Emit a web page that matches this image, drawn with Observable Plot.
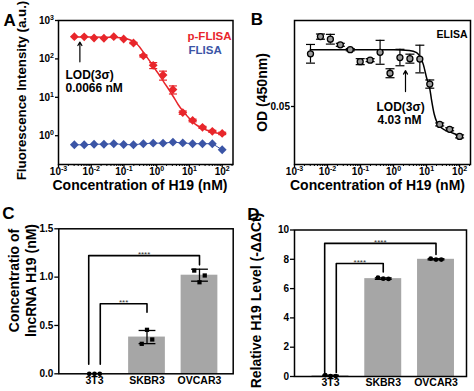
<!DOCTYPE html>
<html>
<head>
<meta charset="utf-8">
<script src="https://cdn.jsdelivr.net/npm/d3@7"></script>
<script src="https://cdn.jsdelivr.net/npm/@observablehq/plot@0.6"></script>
<style>
html, body { margin: 0; padding: 0; background: #fff; }
#fig { position: relative; width: 474px; height: 391px; overflow: hidden; background: #fff; }
#fig svg { position: absolute; }
</style>
</head>
<body>
<div id="fig"></div>
<script>
// ---------- Data: panels A & B ----------
const concentrations = [0.00305, 0.0061, 0.0122, 0.0244, 0.0488, 0.0977, 0.195, 0.391, 0.781, 1.56, 3.13, 6.25, 12.5, 25, 50, 100];
const pFlisaSignal = [380, 375, 350, 345, 380, 330, 260, 120, 68, 38, 16, 4.0, 2.5, 1.65, 1.3, 1.15];
const pFlisaSD = [0, 0, 0, 0, 0, 0, 10, 8, 12, 10, 3.8, 0.4, 0.2, 0.1, 0.08, 0.08];
const flisaSignal = [0.58, 0.58, 0.60, 0.60, 0.62, 0.59, 0.58, 0.62, 0.64, 0.64, 0.68, 0.65, 0.62, 0.62, 0.62, 0.43];
const pFlisaFitConc = [0.003, 0.01, 0.03, 0.06, 0.1, 0.15, 0.2, 0.3, 0.4, 0.6, 0.8, 1.2, 1.6, 2.4, 3.2, 4.5, 6.4, 10, 15, 25, 50, 100];
const pFlisaFitSignal = [372, 371, 368, 362, 345, 315, 280, 205, 145, 90, 62, 38, 26, 15.5, 10.5, 6.5, 4.3, 2.8, 2.0, 1.55, 1.25, 1.12];
const elisaOD = [0.0641, 0.0687, 0.0680, 0.0665, 0.0652, 0.0620, 0.0624, 0.0645, 0.0589, 0.0631, 0.0628, 0.0627, 0.0560, 0.0452, 0.0439, 0.0420];
const elisaSD = [0.0025, 0.0007, 0.0013, 0.0004, 0.0003, 0.0008, 0.0004, 0.0032, 0.0012, 0.0022, 0.0012, 0.0037, 0.0011, 0.0004, 0.0004, 0.0004];
const elisaFitConc = [0.003, 1, 3, 5, 6.5, 8, 10, 12.5, 14, 17, 21, 30, 50, 100];
const elisaFitOD = [0.0652, 0.0652, 0.0650, 0.0644, 0.0632, 0.0612, 0.0577, 0.0548, 0.0520, 0.0480, 0.0456, 0.0441, 0.0432, 0.0422];
const logTickValues = [1e-3, 1e-2, 1e-1, 1, 10, 100];
const logTickLabels = ["10^-3", "10^-2", "10^-1", "10^0", "10^1", "10^2"];
const signalTickValues = [1, 10, 100, 1000];
const signalTickLabels = ["10^0", "10^1", "10^2", "10^3"];
const odTickValues = [0.05];
const odTickLabels = ["0.05"];
const lodA = {conc: 0.0045, from: 84, to: 275, line1: "LOD(3σ)", line2: "0.0066 nM"};
const lodB = {conc: 2.3, from: 0.0540, to: 0.0596, line1: "LOD(3σ)", line2: "4.03 nM"};
const seriesNames = ["p-FLISA", "FLISA"];

// ---------- Data: panels C & D ----------
const cellLines = ["3T3", "SKBR3", "OVCAR3"];
const h19ConcMean = [0.003, 0.38, 1.02];
const h19ConcSD = [0, 0.068, 0.062];
const h19ConcReps = [[0, 0, 0], [0.31, 0.455, 0.355], [1.068, 0.947, 1.017]];
const h19ConcBrackets = [
  {from: 0, to: 2, top: 1.223, startY: 0.10, endY: 1.127, label: "****", outer: true},
  {from: 0, to: 1, top: 0.724, startY: 0.10, endY: 0.637, label: "***", outer: false}
];
const concTicks = [0, 0.5, 1.0, 1.5];
const concTickLabels = ["0.0", "0.5", "1.0", "1.5"];
const h19LevelMean = [0.05, 6.68, 8.0];
const h19LevelSD = [0.04, 0.05, 0.04];
const h19LevelReps = [[0.1, 0.03, 0.03], [6.75, 6.68, 6.66], [8.05, 7.98, 7.98]];
const h19LevelBrackets = [
  {from: 0, to: 2, top: 9.09, startY: 0.27, endY: 8.33, label: "****", outer: true},
  {from: 0, to: 1, top: 7.71, startY: 0.27, endY: 7.14, label: "****", outer: false}
];
const levelTicks = [0, 2, 4, 6, 8, 10];
const levelTickLabels = ["0", "2", "4", "6", "8", "10"];

// ---------- Styles ----------
const fontFam = '"Liberation Sans", Arial, Helvetica, sans-serif';
const red = "#e8262b", blue = "#3b55a6", barGray = "#a6a6a6";
const baseStyle = {fontFamily: fontFam, fontSize: "10px", fontWeight: "bold", color: "#000", background: "transparent", overflow: "visible"};
const capSym = {draw(ctx, size) { const w = Math.sqrt(size / Math.PI); ctx.moveTo(-w, 0); ctx.lineTo(w, 0); }};
const minorLog = [];
for (let e = -3; e <= 2; e++) for (let k = 2; k <= 9; k++) { const v = k * Math.pow(10, e); if (v <= 214) minorLog.push(v); }
const lookup = (vals, labels) => d => labels[vals.findIndex(v => Math.abs(v - d) < 1e-9 * Math.max(1, Math.abs(v)))];

function superscripts(svg) {
  svg.querySelectorAll("text").forEach(t => {
    let host = t;
    if (t.children.length === 1 && t.firstElementChild.tagName.toLowerCase() === "tspan") host = t.firstElementChild;
    const m = /^10\^(-?\d+)$/.exec(host.textContent.trim());
    if (!m) return;
    while (host.firstChild) host.removeChild(host.firstChild);
    host.appendChild(document.createTextNode("10"));
    const s = document.createElementNS("http://www.w3.org/2000/svg", "tspan");
    s.setAttribute("dy", "-4");
    s.setAttribute("font-size", "7");
    s.textContent = m[1];
    host.appendChild(s);
  });
}

const fig = document.getElementById("fig");
function place(svg, left, top) { svg.style.left = left + "px"; svg.style.top = top + "px"; fig.appendChild(svg); superscripts(svg); }

// ---------- Panel A ----------
const pData = concentrations.map((c, i) => ({c, v: pFlisaSignal[i], sd: pFlisaSD[i]}));
const fData = concentrations.map((c, i) => ({c, v: flisaSignal[i]}));
const pFit = pFlisaFitConc.map((c, i) => ({c, v: pFlisaFitSignal[i]}));
const pErr = pData.filter(d => d.sd > 0);

const plotA = Plot.plot({
  width: 237, height: 195,
  marginLeft: 58, marginRight: 4.5, marginTop: 20, marginBottom: 31,
  style: baseStyle,
  x: {type: "log", domain: [1e-3, 214]},
  y: {type: "log", domain: [0.178, 1000]},
  marks: [
    Plot.line(pFit, {x: "c", y: "v", stroke: red, strokeWidth: 1.5, curve: "monotone-x"}),
    Plot.ruleX(pErr, {x: "c", y1: d => d.v - d.sd, y2: d => d.v + d.sd, stroke: red, strokeWidth: 1.2}),
    Plot.dot(pErr, {x: "c", y: d => d.v - d.sd, symbol: capSym, r: 4, stroke: red, strokeWidth: 1.2}),
    Plot.dot(pErr, {x: "c", y: d => d.v + d.sd, symbol: capSym, r: 4, stroke: red, strokeWidth: 1.2}),
    Plot.line(fData, {x: "c", y: "v", stroke: blue, strokeWidth: 1}),
    Plot.dot(pData, {x: "c", y: "v", symbol: "diamond2", r: 4, fill: red}),
    Plot.dot(fData, {x: "c", y: "v", symbol: "diamond2", r: 4, fill: blue}),
    Plot.arrow([lodA], {x: "conc", y1: "from", y2: "to", stroke: "#000", strokeWidth: 1.2, headLength: 5}),
    Plot.text([lodA], {frameAnchor: "top-left", text: "line1", textAnchor: "start", dx: 7, dy: 50, fontSize: 12}),
    Plot.text([lodA], {frameAnchor: "top-left", text: "line2", textAnchor: "start", dx: 7, dy: 62.5, fontSize: 12}),
    Plot.text([seriesNames[0]], {frameAnchor: "top-left", textAnchor: "start", dx: 129, dy: 11.7, fontSize: 11.5, fill: red}),
    Plot.text([seriesNames[1]], {frameAnchor: "top-left", textAnchor: "start", dx: 130, dy: 25.7, fontSize: 11.5, fill: blue}),
    Plot.frame({strokeWidth: 1.5}),
    Plot.axisX(minorLog, {tickSize: 2, tickFormat: () => "", label: null, strokeWidth: 1}),
    Plot.axisX(logTickValues, {tickFormat: lookup(logTickValues, logTickLabels), tickSize: 3, tickPadding: 0, label: null, strokeWidth: 1.3}),
    Plot.axisY(signalTickValues, {tickFormat: lookup(signalTickValues, signalTickLabels), tickSize: 3, tickPadding: 1.5, label: null, strokeWidth: 1.3}),
    Plot.text(["Concentration of H19 (nM)"], {frameAnchor: "bottom", textAnchor: "middle", dx: -5.75, dy: 25, fontSize: 14}),
    Plot.text(["Fluorescence Intensity (a.u.)"], {frameAnchor: "left", textAnchor: "middle", rotate: -90, dx: -37, dy: -2, fontSize: 13.3}),
    Plot.text(["A"], {frameAnchor: "top-left", textAnchor: "start", dx: -55, dy: -6.8, fontSize: 17})
  ]
});
place(plotA, 0, 0);

// ---------- Panel B ----------
const eData = concentrations.map((c, i) => ({c, v: elisaOD[i], sd: elisaSD[i]}));
const eFit = elisaFitConc.map((c, i) => ({c, v: elisaFitOD[i]}));
const plotB = Plot.plot({
  width: 237, height: 195,
  marginLeft: 57, marginRight: 4, marginTop: 20, marginBottom: 31,
  style: baseStyle,
  x: {type: "log", domain: [1e-3, 214]},
  y: {domain: [0.03448, 0.07301]},
  marks: [
    Plot.line(eFit, {x: "c", y: "v", stroke: "#000", strokeWidth: 1.5, curve: "monotone-x"}),
    Plot.ruleX(eData, {x: "c", y1: d => d.v - d.sd, y2: d => d.v + d.sd, stroke: "#000", strokeWidth: 1.2}),
    Plot.dot(eData, {x: "c", y: d => d.v - d.sd, symbol: capSym, r: 4.5, stroke: "#000", strokeWidth: 1.2}),
    Plot.dot(eData, {x: "c", y: d => d.v + d.sd, symbol: capSym, r: 4.5, stroke: "#000", strokeWidth: 1.2}),
    Plot.dot(eData, {x: "c", y: "v", r: 3, fill: "#9a9a9a", stroke: "#000", strokeWidth: 1.3}),
    Plot.arrow([lodB], {x: "conc", y1: "from", y2: "to", stroke: "#000", strokeWidth: 1.2, headLength: 5}),
    Plot.text([lodB], {frameAnchor: "top-left", text: "line1", textAnchor: "start", dx: 82, dy: 81.7, fontSize: 12}),
    Plot.text([lodB], {frameAnchor: "top-left", text: "line2", textAnchor: "start", dx: 83, dy: 95, fontSize: 12}),
    Plot.text(["ELISA"], {frameAnchor: "top-right", textAnchor: "end", dx: -3, dy: 10, fontSize: 10.5}),
    Plot.frame({strokeWidth: 1.5}),
    Plot.axisX(minorLog, {tickSize: 2, tickFormat: () => "", label: null, strokeWidth: 1}),
    Plot.axisX(logTickValues, {tickFormat: lookup(logTickValues, logTickLabels), tickSize: 3, tickPadding: 0, label: null, strokeWidth: 1.3}),
    Plot.axisY(odTickValues, {tickFormat: lookup(odTickValues, odTickLabels), tickSize: 3, tickPadding: 1.5, label: null, strokeWidth: 1.3}),
    Plot.text(["Concentration of H19 (nM)"], {frameAnchor: "bottom", textAnchor: "middle", dx: -5, dy: 25, fontSize: 14}),
    Plot.text(["OD (450nm)"], {frameAnchor: "left", textAnchor: "middle", rotate: -90, dx: -32, dy: 0, fontSize: 14}),
    Plot.text(["B"], {frameAnchor: "top-left", textAnchor: "start", dx: -43.7, dy: -7.5, fontSize: 17})
  ]
});
place(plotB, 237, 0);

// ---------- Panels C & D ----------
function barPanel(o) {
  const bars = cellLines.map((c, i) => ({i, v: o.means[i], sd: o.sds[i]}));
  const errs = bars.filter(d => d.sd > 0);
  const pts = o.reps.flatMap((r, i) => r.map((v, k) => ({i, k, v})));
  const leftEnd = b => b.from + (b.outer ? -0.11 : 0.11);
  const br = o.brackets.flatMap((b, j) => [
    {j, x: leftEnd(b), y: b.startY}, {j, x: leftEnd(b), y: b.top},
    {j, x: b.to, y: b.top}, {j, x: b.to, y: b.endY}
  ]);
  return Plot.plot({
    width: 237, height: 196,
    marginLeft: o.mL, marginRight: o.mR, marginTop: o.mT, marginBottom: o.mB,
    style: baseStyle,
    x: {domain: o.xDomain},
    y: {domain: o.yDomain},
    marks: [
      Plot.rectY(bars, {x1: d => d.i - 0.35, x2: d => d.i + 0.35, y1: 0, y2: "v", fill: barGray}),
      Plot.ruleX(errs, {x: "i", y1: d => d.v - d.sd, y2: d => d.v + d.sd, stroke: "#000", strokeWidth: 1.3}),
      Plot.link(errs, {x1: d => d.i - 0.16, x2: d => d.i + 0.16, y1: d => d.v + d.sd, y2: d => d.v + d.sd, stroke: "#000", strokeWidth: 1.3}),
      Plot.link(errs, {x1: d => d.i - 0.16, x2: d => d.i + 0.16, y1: d => d.v - d.sd, y2: d => d.v - d.sd, stroke: "#000", strokeWidth: 1.3}),
      Plot.line(br, {x: "x", y: "y", z: "j", stroke: "#000", strokeWidth: 1.6}),
      Plot.text(o.brackets, {x: d => (leftEnd(d) + d.to) / 2, y: "top", text: "label", fontSize: 8, fontWeight: "normal", fill: "#333", dy: -1.2}),
      Plot.dot(pts, {x: d => d.i + (d.k - 1) * 0.1, y: "v", symbol: d => o.symbols[d.i], r: 2.4, fill: "#000"}),
      Plot.frame({strokeWidth: 1.5}),
      Plot.axisY(o.yTicks, {tickFormat: lookup(o.yTicks, o.yTickLabels), tickSize: 4, tickPadding: 1.5, label: null, strokeWidth: 1.3}),
      Plot.axisX([0, 1, 2], {tickFormat: i => cellLines[i], tickSize: 0, tickPadding: o.xPad, fontSize: 10.5, label: null}),
      Plot.text([o.yLabel], {frameAnchor: "left", textAnchor: "middle", rotate: -90, dx: o.lDx, dy: o.lDy, fontSize: o.lSize, lineHeight: o.lh}),
      Plot.text([o.letter], {frameAnchor: "top-left", textAnchor: "start", dx: o.pDx, dy: o.pDy, fontSize: 17})
    ]
  });
}

const plotC = barPanel({
  means: h19ConcMean, sds: h19ConcSD, reps: h19ConcReps, brackets: h19ConcBrackets,
  mL: 58.3, mR: 4.3, mT: 33.3, mB: 17.7, xDomain: [-0.68, 2.642], yDomain: [0, 1.5],
  yTicks: concTicks, yTickLabels: concTickLabels, xPad: 3,
  yLabel: "Concentratio of\nlncRNA H19 (nM)", lDx: -36.6, lDy: -20.8, lSize: 14, lh: 1.19,
  letter: "C", pDx: -56.6, pDy: -21.6, symbols: ["circle", "square", "square"]
});
place(plotC, 0, 195);

const plotD = barPanel({
  means: h19LevelMean, sds: h19LevelSD, reps: h19LevelReps, brackets: h19LevelBrackets,
  mL: 57, mR: 8, mT: 34.5, mB: 15, xDomain: [-0.682, 2.578], yDomain: [0, 10],
  yTicks: levelTicks, yTickLabels: levelTickLabels, xPad: 2,
  yLabel: "Relative H19 Level (-ΔΔCt)", lDx: -39, lDy: -2.75, lSize: 14, lh: 1.15,
  letter: "D", pDx: -47.3, pDy: -22.5, symbols: ["circle", "circle", "circle"]
});
place(plotD, 237, 195);
</script>
</body>
</html>
